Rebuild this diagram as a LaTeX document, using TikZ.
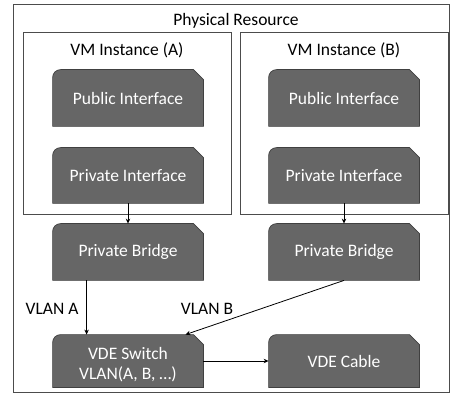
\documentclass[tikz,border=0pt]{standalone}
\usepackage{fontspec}
\setmainfont{Carlito}
\usetikzlibrary{arrows.meta,backgrounds}
\definecolor{boxGrey}{HTML}{666666}
\tikzset{
	darkbox/.style={minimum width=150pt, minimum height=#1, inner sep=2pt,
		text=white, align=center, font=\fontsize{17.5}{20}\selectfont},
	darkbox/.default=56pt,
	frame/.style={draw=black!70, line width=0.8pt, minimum width=208pt, minimum height=182pt},
	title/.style={font=\fontsize{17.5}{20}\selectfont}
}
\begin{document}
\begin{tikzpicture}[x=1pt,y=1pt,-{Stealth[length=5pt,width=4.5pt]},line width=0.8pt]
				\useasboundingbox (0,0) rectangle (450,402);
				\node[frame, minimum width=436pt, minimum height=388pt] (phys) at (231, 204) {};
				\node[title] (physTitle) at (236, 381) {Physical Resource};
				
				\node[frame] (vmA) at (127, 279) {};
				\node[frame] (vmB) at (344, 279) {};
				\node[title] (vmATitle) at (127, 352) {VM Instance (A)};
				\node[title] (vmBTitle) at (344, 352) {VM Instance (B)};
				
				\node[darkbox] (pubA) at (128, 304) {Public Interface};
				\node[darkbox=55pt] (privA) at (128, 226.5) {Private Interface};
				\node[darkbox] (brA) at (128, 150) {Private Bridge};
				\node[darkbox=52pt, text height=37pt, text depth=0pt] (switch) at (128, 41) {VDE Switch\\VLAN(A, B, \dots)};
				
				\node[darkbox] (pubB) at (344, 304) {Public Interface};
				\node[darkbox=55pt] (privB) at (344, 226.5) {Private Interface};
				\node[darkbox] (brB) at (344, 150) {Private Bridge};
				\node[darkbox=52pt] (cable) at (344, 41) {VDE Cable};
				
				% snipped boxes behind the texts
				\begin{scope}[on background layer]
					\foreach \n in {pubA,privA,brA,switch,pubB,privB,brB,cable}
					\draw[-, fill=boxGrey, draw=black!75, line width=0.7pt] (\n.south west) -- ([yshift=-8pt]\n.north west)
						arc[start angle=180, end angle=90, radius=8pt] -- ([xshift=-10pt]\n.north east)
						-- ([yshift=-10pt]\n.north east) -- (\n.south east) -- cycle;
				\end{scope}
				
				\node[title] (vlanA) at (52, 93) {VLAN A};
				\node[title] (vlanB) at (207, 93) {VLAN B};
				
				\draw (privA.south) -- (brA.north);
				\draw (privB.south) -- (brB.north);
				\draw ([xshift=34pt]brA.south west) -- ([xshift=34pt]switch.north west);
				\draw (brB.south) -- ([xshift=-18pt]switch.north east);
				\draw (switch.east) -- (cable.west);
			\end{tikzpicture}
\end{document}
